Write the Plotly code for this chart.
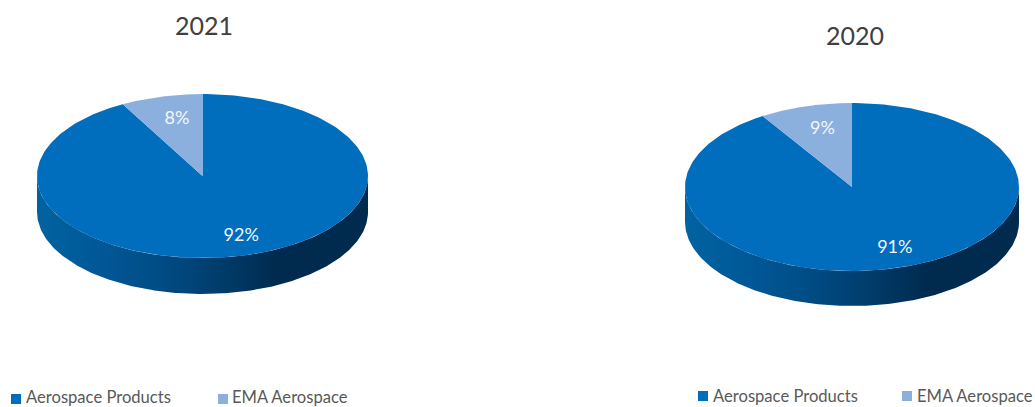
import numpy as np
import plotly.graph_objects as go

WIDTH, HEIGHT = 1035, 407

categories = ["Aerospace Products", "EMA Aerospace"]
shares_2021 = [92, 8]
shares_2020 = [91, 9]
years = ["2021", "2020"]

BLUE = "#006DBD"
LIGHT = "#8BB0DE"
WALL_STOPS = [
    [0.0, "#00639F"], [0.12, "#005C9C"], [0.35, "#004E88"],
    [0.55, "#003D6C"], [0.72, "#002B50"], [1.0, "#002B4E"],
]
FONT = "Lato, Carlito, 'Open Sans', sans-serif"
TEXT = "#595959"

# Pixel box of each disc: left, right, top of the face, centre, bottom of the wall
BOXES = [
    dict(left=37, right=368, top=94, centre=176, bottom=294, title_x=204, title_y=25),
    dict(left=685, right=1019, top=103, centre=187, bottom=306, title_x=855, title_y=35),
]
# Key layout per chart: swatch centres, text starts, vertical centres
KEYS = [
    dict(swatch_x=[16, 223], text_x=[25, 231], swatch_y=399, text_y=397),
    dict(swatch_x=[703, 907], text_x=[712, 916], swatch_y=396, text_y=395.5),
]
LABEL_RADIUS = 0.74
# Labels lean slightly right and down of the sector's mid-line, per category
LABEL_NUDGE_X = [0.05, 0.03]
LABEL_NUDGE_Y = -0.025


def wedge_outline(start_deg, end_deg):
    """Unit-circle sector running clockwise from twelve o'clock."""
    t = np.radians(np.linspace(start_deg, end_deg, 240))
    return (np.r_[0, np.sin(t), 0], np.r_[0, np.cos(t), 0])


def add_disc(fig, shares, box, index):
    suffix = "" if index == 0 else str(index + 1)
    xa, ya = f"x{suffix}", f"y{suffix}"
    radius_px = box["centre"] - box["top"]
    depth = (box["bottom"] - box["centre"] - radius_px) / radius_px

    # Side wall: front half of the rim extruded downwards
    t = np.linspace(np.pi, 2 * np.pi, 240)
    wall_x = np.r_[np.cos(t), np.cos(t)[::-1], np.cos(t)[0]]
    wall_y = np.r_[np.sin(t) - depth, np.sin(t)[::-1], np.sin(t)[0] - depth]
    fig.add_trace(go.Scatter(
        x=wall_x, y=wall_y, xaxis=xa, yaxis=ya, mode="lines",
        line=dict(width=0), fill="toself", showlegend=False, hoverinfo="skip",
        fillgradient=dict(type="horizontal", colorscale=WALL_STOPS),
    ))

    # Top face: sectors run clockwise from twelve o'clock
    total = sum(shares)
    start = 0.0
    colors = [BLUE, LIGHT]
    label_x, label_y, label_text = [], [], []
    for name, share, color, nudge in zip(categories, shares, colors, LABEL_NUDGE_X):
        sweep = 360.0 * share / total
        x, y = wedge_outline(start, start + sweep)
        fig.add_trace(go.Scatter(
            x=x, y=y, xaxis=xa, yaxis=ya, mode="lines", name=name,
            line=dict(width=0), fill="toself", fillcolor=color,
            showlegend=False, hovertemplate=f"{name}: {share}%<extra></extra>",
        ))
        mid = np.radians(start + sweep / 2)
        label_x.append(LABEL_RADIUS * np.sin(mid) + nudge)
        label_y.append(LABEL_RADIUS * np.cos(mid) + LABEL_NUDGE_Y)
        label_text.append(f"{share}%")
        start += sweep

    fig.add_trace(go.Scatter(
        x=label_x, y=label_y, xaxis=xa, yaxis=ya, mode="text", text=label_text,
        textposition="middle center", showlegend=False, hoverinfo="skip",
        textfont=dict(family=FONT, size=18, color="#F2F6FB"),
    ))

    axis = dict(visible=False, fixedrange=True)
    fig.update_layout({
        f"xaxis{suffix}": dict(axis, domain=[box["left"] / WIDTH, box["right"] / WIDTH],
                               range=[-1, 1], anchor=ya),
        f"yaxis{suffix}": dict(axis, domain=[1 - box["bottom"] / HEIGHT, 1 - box["top"] / HEIGHT],
                               range=[-1 - depth, 1], anchor=xa),
    })


fig = go.Figure()
add_disc(fig, shares_2021, BOXES[0], 0)
add_disc(fig, shares_2020, BOXES[1], 1)

# Colour keys sit on a full-page axis pair measured in pixels
for key in KEYS:
    fig.add_trace(go.Scatter(
        x=key["swatch_x"], y=[key["swatch_y"]] * 2, xaxis="x3", yaxis="y3", mode="markers",
        marker=dict(symbol="square", size=10, color=[BLUE, LIGHT], line=dict(width=0)),
        showlegend=False, hoverinfo="skip",
    ))
    for name, x in zip(categories, key["text_x"]):
        fig.add_annotation(
            text=name, xref="x3", yref="y3", x=x, y=key["text_y"], showarrow=False,
            xanchor="left", yanchor="middle", xshift=-1,
            font=dict(family=FONT, size=16.6, color=TEXT),
        )

for year, box in zip(years, BOXES):
    fig.add_annotation(
        text=year, xref="paper", yref="paper", showarrow=False,
        x=box["title_x"] / WIDTH, y=1 - box["title_y"] / HEIGHT,
        xanchor="center", yanchor="middle",
        font=dict(family=FONT, size=25, color="#404040"),
    )

fig.update_layout(
    width=WIDTH, height=HEIGHT, margin=dict(l=0, r=0, t=0, b=0),
    paper_bgcolor="white", plot_bgcolor="rgba(0,0,0,0)", showlegend=False,
    xaxis3=dict(visible=False, fixedrange=True, domain=[0, 1], range=[0, WIDTH], anchor="y3"),
    yaxis3=dict(visible=False, fixedrange=True, domain=[0, 1], range=[HEIGHT, 0], anchor="x3"),
)

fig.write_html("out.html", config=dict(displayModeBar=False))
